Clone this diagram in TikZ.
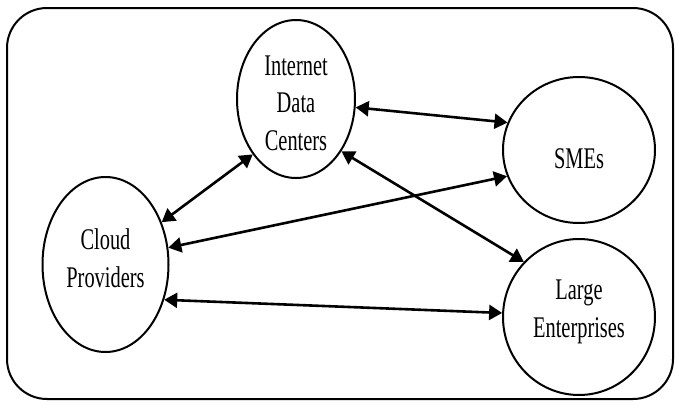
\documentclass[tikz,border=0pt]{standalone}
\usepackage{fontspec}
\setmainfont[FakeStretch=0.68]{Liberation Serif}
\usetikzlibrary{shapes.geometric,arrows.meta}
\tikzset{
  party/.style={ellipse, draw, line width=2pt, inner sep=0pt},
  caption/.style={align=center, inner sep=0pt,
    font=\fontsize{30}{37.5}\selectfont},
  link/.style={line width=2.6pt,
    {Triangle[length=13pt,width=15pt]}-{Triangle[length=13pt,width=15pt]}},
  frame/.style={draw, line width=2pt, rounded corners=40pt}
}
\begin{document}
\begin{tikzpicture}[x=1pt,y=-1pt]
  \useasboundingbox (0,0) rectangle (678,405);
  \draw[frame] (7,8) rectangle (673,399);

  % the four parties
  \node[party, minimum width=118pt, minimum height=158pt] (idc) at (296,99) {};
  \node[party, minimum width=152pt, minimum height=146pt] (sme) at (579,150) {};
  \node[party, minimum width=126pt, minimum height=175pt] (cloud) at (105.5,264.5) {};
  \node[party, minimum width=152pt, minimum height=156pt] (large) at (579,317) {};

  % their names
  \node[caption] (idc-name) at (296,103) {Internet\\Data\\Centers};
  \node[caption] (sme-name) at (579,159) {SMEs};
  \node[caption] (cloud-name) at (105.5,258) {Cloud\\Providers};
  \node[caption] (large-name) at (579,312) {Large\\Enterprises};

  % two-way links
  \draw[link] (idc.-8.7) -- (sme.159.2);
  \draw[link] (idc.-128) -- (cloud.37.3);
  \draw[link] (idc.-49.7) -- (large.135);
  \draw[link] (cloud.15.3) -- (sme.200.8);
  \draw[link] (cloud.-31.8) -- (large.177);
\end{tikzpicture}
\end{document}
